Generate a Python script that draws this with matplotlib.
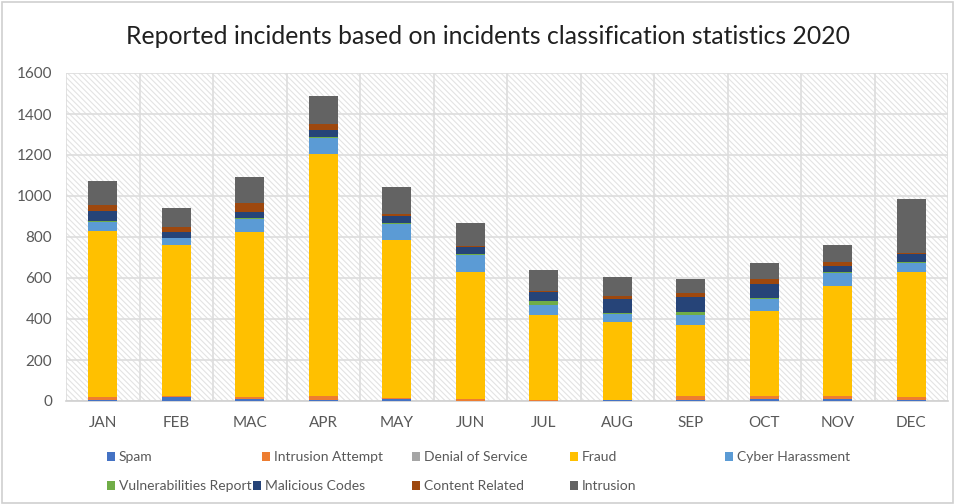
import matplotlib
matplotlib.use("Agg")
import matplotlib.pyplot as plt
from matplotlib.patches import Rectangle, Patch
import numpy as np

months = ["JAN", "FEB", "MAC", "APR", "MAY", "JUN", "JUL", "AUG", "SEP", "OCT", "NOV", "DEC"]
spam = [5, 18, 10, 5, 8, 2, 2, 3, 5, 10, 10, 3]
intrusion_attempt = [15, 8, 10, 20, 5, 8, 3, 2, 20, 15, 15, 15]
denial_of_service = [1, 0, 0, 1, 0, 0, 0, 0, 0, 0, 1, 0]
fraud = [810, 733, 803, 1180, 772, 621, 413, 380, 347, 414, 533, 611]
cyber_harassment = [44, 34, 63, 78, 78, 79, 52, 38, 48, 59, 65, 46]
vulnerabilities_report = [5, 4, 5, 4, 3, 5, 16, 6, 12, 4, 3, 3]
malicious_codes = [45, 26, 32, 35, 36, 34, 44, 69, 77, 69, 33, 40]
content_related = [29, 27, 44, 29, 12, 7, 8, 14, 16, 22, 16, 6]
intrusion = [120, 91, 124, 137, 128, 114, 101, 94, 72, 82, 83, 263]

series_names = ["Spam", "Intrusion Attempt", "Denial of Service", "Fraud", "Cyber Harassment",
                "Vulnerabilities Report", "Malicious Codes", "Content Related", "Intrusion"]
series_values = [spam, intrusion_attempt, denial_of_service, fraud, cyber_harassment,
                 vulnerabilities_report, malicious_codes, content_related, intrusion]
colors = ["#4472C4", "#ED7D31", "#A5A5A5", "#FFC000", "#5B9BD5",
          "#70AD47", "#264478", "#9E480E", "#636363"]

plt.rcParams['font.family'] = ['Lato', 'DejaVu Sans']
plt.rcParams['hatch.color'] = '#e3e3e3'
plt.rcParams['hatch.linewidth'] = 0.8

W, H = 955, 504
fig = plt.figure(figsize=(W / 100, H / 100), dpi=100)
fig.patch.set_facecolor('white')
fig.patches.append(Rectangle((0.002, 0.002), 0.996, 0.994, transform=fig.transFigure,
                             fill=False, edgecolor='#d0d0d0', linewidth=1.2))

ax = fig.add_axes([66 / W, 1 - 401 / H, 882 / W, 328 / H])
x = np.arange(len(months))
ax.add_patch(Rectangle((0, 0), 1, 1, transform=ax.transAxes, facecolor='white',
                       hatch='\\\\\\\\\\\\', edgecolor='#e3e3e3', linewidth=0, zorder=0))

bottom = np.zeros(len(months))
handles = []
for name, vals, c in zip(series_names, series_values, colors):
    v = np.array(vals, dtype=float)
    ax.bar(x, v, width=0.4, bottom=bottom, color=c, label=name, zorder=3)
    bottom += v
    handles.append(Patch(facecolor=c, label=name))

ax.set_xlim(-0.5, len(months) - 0.5)
ax.set_ylim(0, 1600)
ax.set_yticks(np.arange(0, 1601, 200))
ax.set_xticks(x)
ax.set_xticklabels(months)
ax.set_xticks(np.arange(-0.5, len(months), 1), minor=True)
ax.grid(axis='y', color='#dddddd', linewidth=1.2, zorder=1)
ax.grid(axis='x', which='minor', color='#dddddd', linewidth=1.2, zorder=1)
ax.tick_params(axis='both', which='both', length=0, colors='#595959', labelsize=11)
ax.tick_params(axis='x', pad=11)
ax.tick_params(axis='y', pad=10)
for s in ['top', 'right', 'left']:
    ax.spines[s].set_visible(False)
ax.spines['bottom'].set_color('#d0d0d0')
ax.spines['bottom'].set_linewidth(1.2)

fig.text(487.5 / W, 1 - 37 / H, "Reported incidents based on incidents classification statistics 2020",
         ha='center', va='center', fontsize=17.8, color='#202020')

row1 = [(107, 0), (262, 1), (412, 2), (570, 3), (725, 4)]
row2 = [(107, 5), (253, 6), (412, 7), (570, 8)]
for yy, row in [(457, row1), (486, row2)]:
    for xx, i in row:
        leg = fig.legend(handles=[handles[i]], loc='center left',
                         bbox_to_anchor=(xx / W, 1 - yy / H),
                         frameon=False, handlelength=0.6, handleheight=0.6, handletextpad=0.25,
                         borderaxespad=0, borderpad=0, fontsize=10)
        for t in leg.get_texts():
            t.set_color('#595959')

fig.savefig("out.png", dpi=100)
